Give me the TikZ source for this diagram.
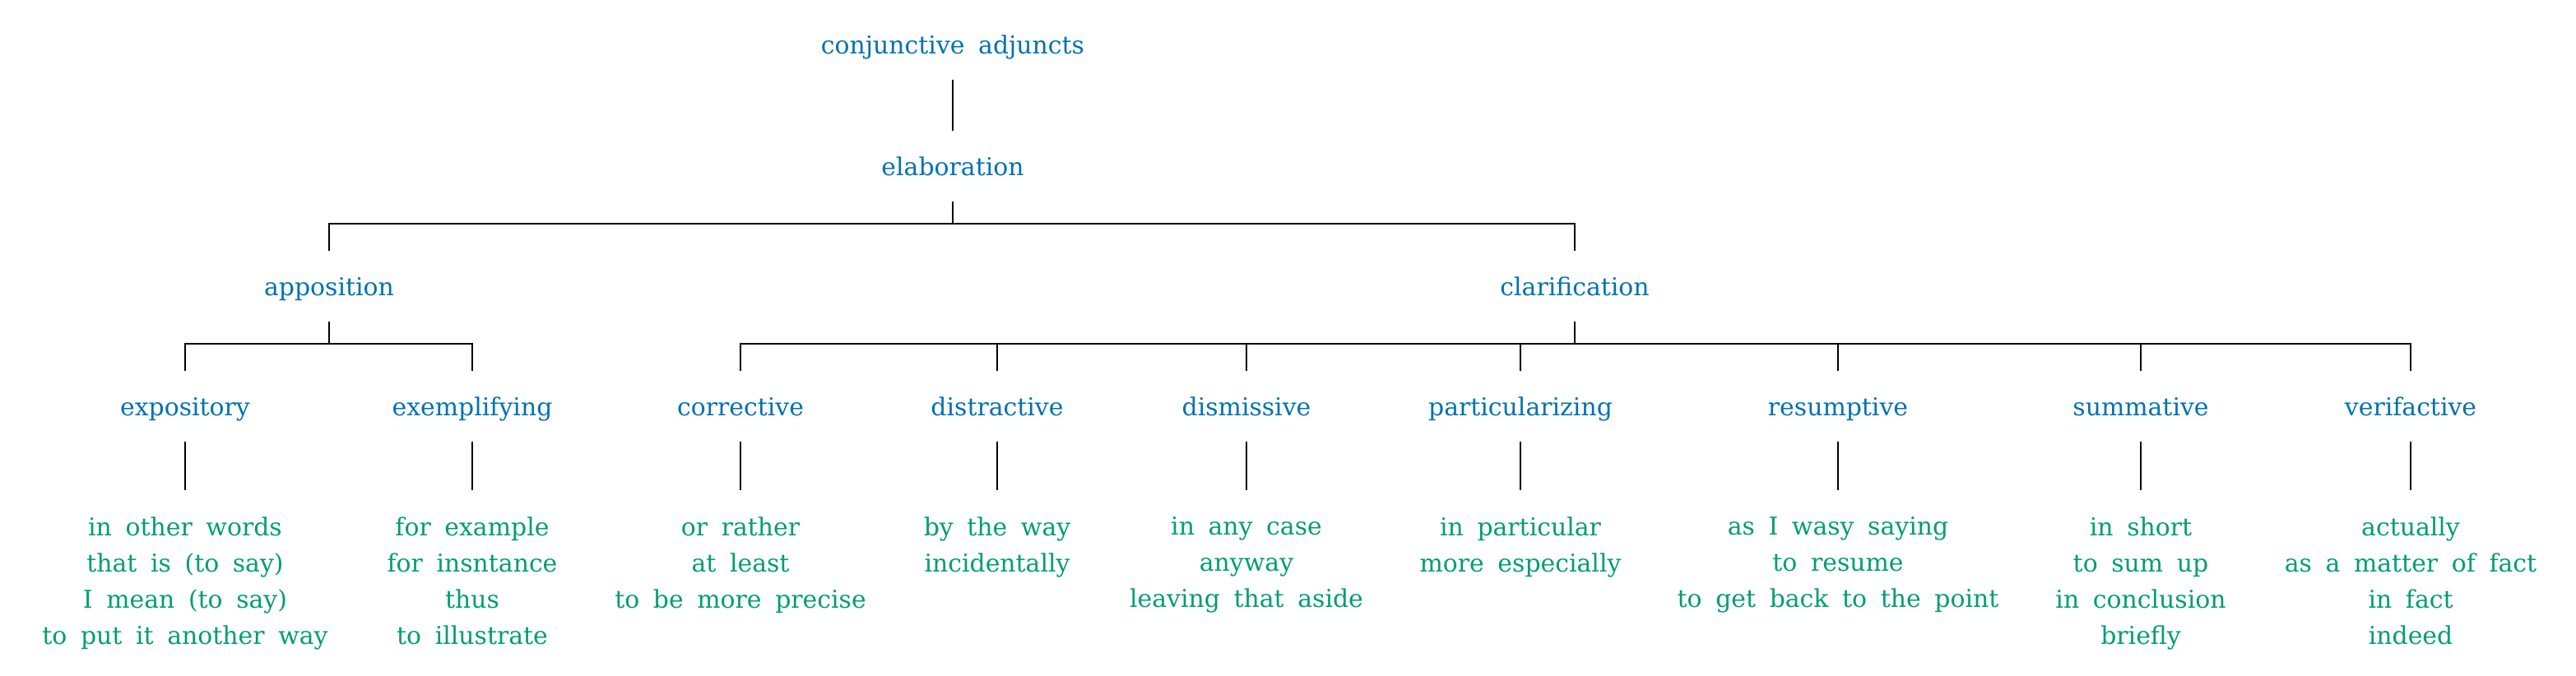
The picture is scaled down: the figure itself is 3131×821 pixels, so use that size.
\documentclass[tikz,border=0pt]{standalone}
\usepackage{fontspec}
\setmainfont{DejaVu Serif}[WordSpace=1.75]
\usepackage{xcolor}
\usepackage{tikz}
\definecolor{catblue}{HTML}{0072B2}
\definecolor{leafgreen}{HTML}{009E73}

\begin{document}
\begin{tikzpicture}[x=0.01cm,y=-0.01cm,
    every node/.style={font=\fontsize{8.5}{12.5}\selectfont},
    cat/.style={text=catblue,minimum height=0.84cm,text height=7.3pt,text depth=0.7pt,inner xsep=0pt,inner ysep=0pt},
    leaf/.style={text=leafgreen,align=center,anchor=north,inner xsep=0pt,inner ysep=0.32cm},
    link/.style={line width=0.6pt}]
    \useasboundingbox (0,0) rectangle (3131,821);
    % top of the tree
    \node[cat] (root) at (1158,54) {conjunctive adjuncts};
    \node[cat] (elab) at (1158,202) {elaboration};
    \node[cat] (appo) at (400,348) {apposition};
    \node[cat] (clar) at (1914,348) {clarification};
    \draw[link] (root) -- (elab);
    \coordinate (elabbar) at (1158,272);
    \draw[link] (elab) -- (elabbar);
    \draw[link] (appo.north) |- (elabbar) -| (clar.north);
    % second level
    \foreach \n/\xpos/\txt in {expo/225/expository, exem/574/exemplifying,
        corr/900/corrective, dist/1212/distractive, dism/1515/dismissive,
        part/1848/particularizing, resu/2234/resumptive,
        summ/2602/summative, veri/2930/verifactive}
      \node[cat] (\n) at (\xpos,494) {\txt};
    \coordinate (appobar) at (400,418);
    \coordinate (clarbar) at (1914,418);
    \draw[link] (appo) -- (appobar);
    \draw[link] (clar) -- (clarbar);
    \draw[link] (expo.north) |- (appobar) -| (exem.north);
    \draw[link] (corr.north) |- (clarbar) -| (veri.north);
    \foreach \n in {dist,dism,part,resu,summ}
      \draw[link] (\n.north) |- (clarbar);
    % the adjuncts themselves
    \node[leaf] (expoleaf) at (225,596) {in other words\\that is (to say)\\I mean (to say)\\to put it another way};
    \node[leaf] (exemleaf) at (574,596) {for example\\for insntance\\thus\\to illustrate};
    \node[leaf] (corrleaf) at (900,596) {or rather\\at least\\to be more precise};
    \node[leaf] (distleaf) at (1212,596) {by the way\\incidentally};
    \node[leaf] (dismleaf) at (1515,596) {in any case\\anyway\\leaving that aside};
    \node[leaf] (partleaf) at (1848,596) {in particular\\more especially};
    \node[leaf] (resuleaf) at (2234,596) {as I wasy saying\\to resume\\to get back to the point};
    \node[leaf] (summleaf) at (2602,596) {in short\\to sum up\\in conclusion\\briefly};
    \node[leaf] (verileaf) at (2930,596) {actually\\as a matter of fact\\in fact\\indeed};
    \foreach \n in {expo,exem,corr,dist,dism,part,resu,summ,veri}
      \draw[link] (\n) -- (\n leaf);
\end{tikzpicture}
\end{document}
